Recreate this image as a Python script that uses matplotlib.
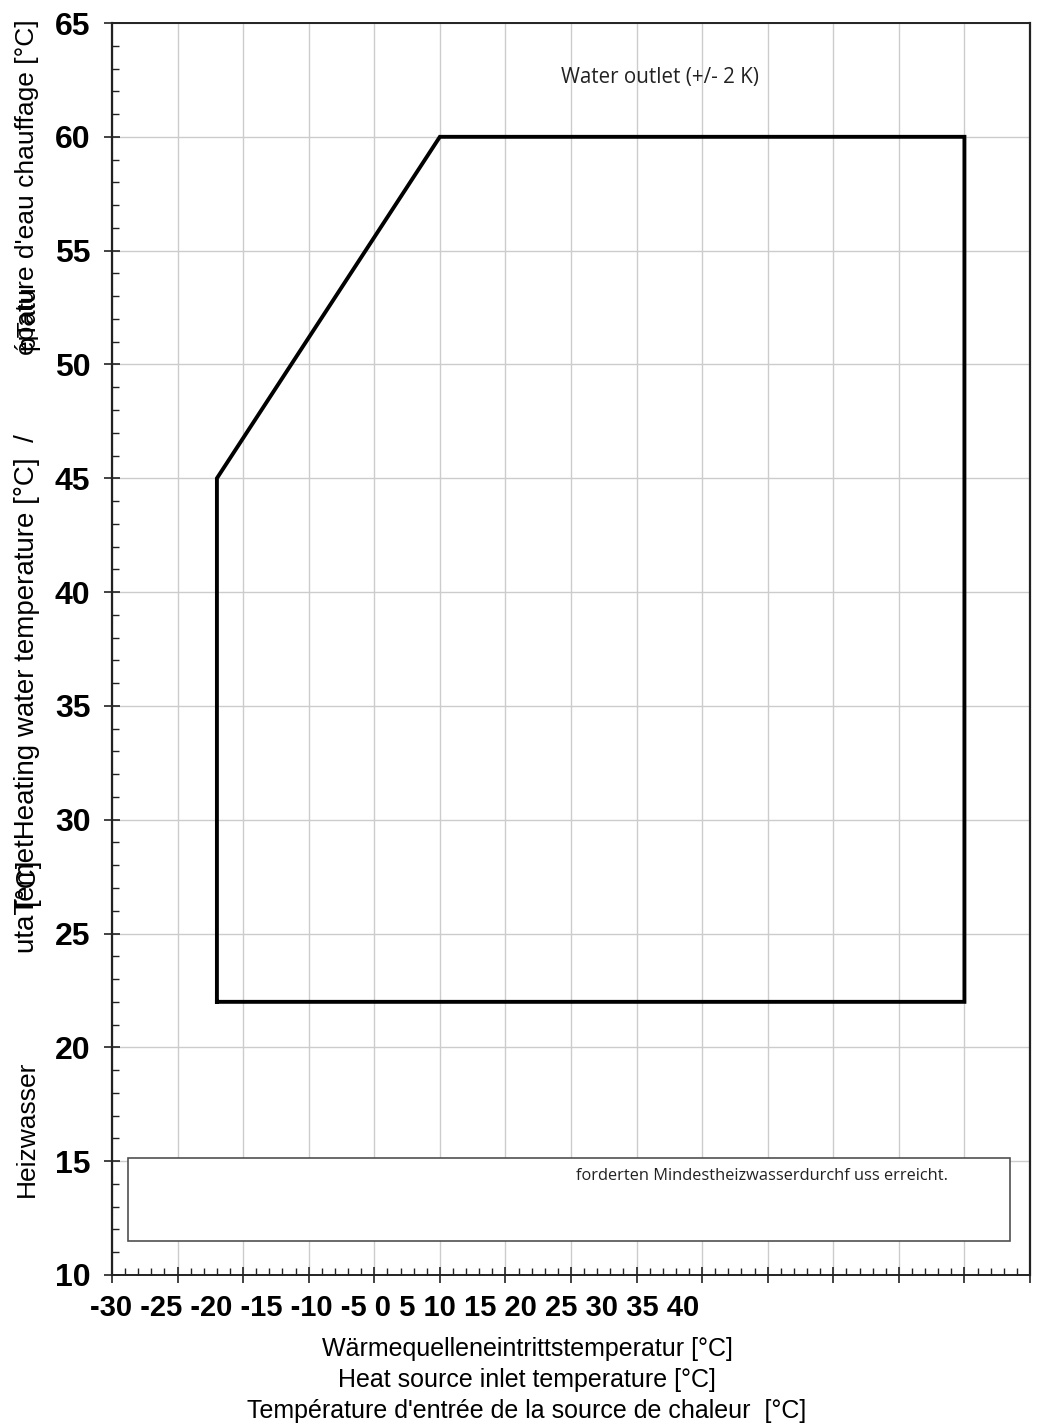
import matplotlib
matplotlib.use("Agg")
import matplotlib.pyplot as plt
from matplotlib.patches import Rectangle
from matplotlib.ticker import MultipleLocator

plt.rcParams["font.family"] = ["Liberation Sans", "DejaVu Sans"]

# operating envelope (heat source inlet temp, heating water temp)
ENVELOPE_X = [-22, -22, -5, 35, 35, -22]
ENVELOPE_Y = [22, 45, 60, 60, 22, 22]

XTICK_LABELS = [-30, -25, -20, -15, -10, -5, 0, 5, 10, 15, 20, 25, 30, 35, 40]
YTICKS = [10, 15, 20, 25, 30, 35, 40, 45, 50, 55, 60, 65]

XLABEL_LINES = [
    "Wärmequelleneintrittstemperatur [°C]",
    "Heat source inlet temperature [°C]",
    "Température d'entrée de la source de chaleur  [°C]",
]
NOTE_TOP = "Water outlet (+/- 2 K)"
NOTE_BOX = "forderten Mindestheizwasserdurchf uss erreicht."

W, H = 1037, 1426
fig = plt.figure(figsize=(W / 100, H / 100), dpi=100)
ax = fig.add_axes([112 / W, 1 - 1275 / H, (1030 - 112) / W, (1275 - 23) / H])

ax.set_xlim(-30, 40)
ax.set_ylim(10, 65)
ax.xaxis.set_major_locator(MultipleLocator(5))
ax.xaxis.set_minor_locator(MultipleLocator(1))
ax.set_yticks(YTICKS)
ax.yaxis.set_minor_locator(MultipleLocator(1))

ax.grid(True, which="major", color="#cccccc", linewidth=1.0, zorder=0)
ax.set_axisbelow(True)

ax.plot(ENVELOPE_X, ENVELOPE_Y, color="black", linewidth=2.8,
        solid_joinstyle="miter", zorder=3)

# white note box at the bottom
box = Rectangle((-28.8, 11.5), 38.5 + 28.8, 15.15 - 11.5, facecolor="white",
                edgecolor="#505050", linewidth=1.2, zorder=2)
ax.add_patch(box)
ax.text(5.4, 14.35, NOTE_BOX, fontsize=11.8, family=["Open Sans", "DejaVu Sans"],
        color="#222222", va="center", ha="left", zorder=4)
ax.text(11.8, 62.6, NOTE_TOP, fontsize=14.8, family=["Open Sans", "DejaVu Sans"],
        color="#222222", va="center", ha="center", zorder=4)

for side in ["left", "bottom", "top", "right"]:
    ax.spines[side].set_color("#222222")
ax.spines["left"].set_linewidth(1.6)
ax.spines["bottom"].set_linewidth(1.4)
ax.spines["top"].set_linewidth(1.4)
ax.spines["right"].set_linewidth(1.6)

ax.tick_params(axis="y", which="major", direction="inout", length=11, width=1.2,
               labelsize=23, pad=10, colors="#222222")
ax.tick_params(axis="y", which="minor", direction="in", length=5, width=1.0,
               colors="#222222")
ax.tick_params(axis="x", which="major", direction="inout", length=12, width=1.2,
               labelbottom=False, colors="#222222")
ax.tick_params(axis="x", which="minor", direction="in", length=5, width=1.0,
               colors="#222222")
for lab in ax.get_yticklabels():
    lab.set_fontweight("bold")
    lab.set_color("black")

# x tick labels are squeezed together at the left in the original
fig.text(90 / W, 1 - 1308 / H, " ".join(str(v) for v in XTICK_LABELS),
         fontsize=21, fontweight="bold", ha="left", va="center")

for i, line in enumerate(XLABEL_LINES):
    fig.text(527 / W, 1 - (1349 + 31 * i) / H, line, fontsize=18,
             ha="center", va="center")

# garbled, overlapping y-axis label pieces
ylab_kw = dict(rotation=90, ha="center", va="bottom")
fig.text(27 / W, 1 - 1197 / H, "Heizwasser", fontsize=19, **ylab_kw)
fig.text(27 / W, 1 - 953 / H, "utaTemetHeating water temperature [°C]  /",
         fontsize=20, **ylab_kw)
fig.text(27 / W, 1 - 905 / H, "[°C]", fontsize=20, **ylab_kw)
fig.text(27 / W, 1 - 355 / H, "épature d'eau chauffage [°C]", fontsize=19, **ylab_kw)
fig.text(27 / W, 1 - 350 / H, "pTatu", fontsize=19, **ylab_kw)

fig.savefig("out.png", dpi=100)
